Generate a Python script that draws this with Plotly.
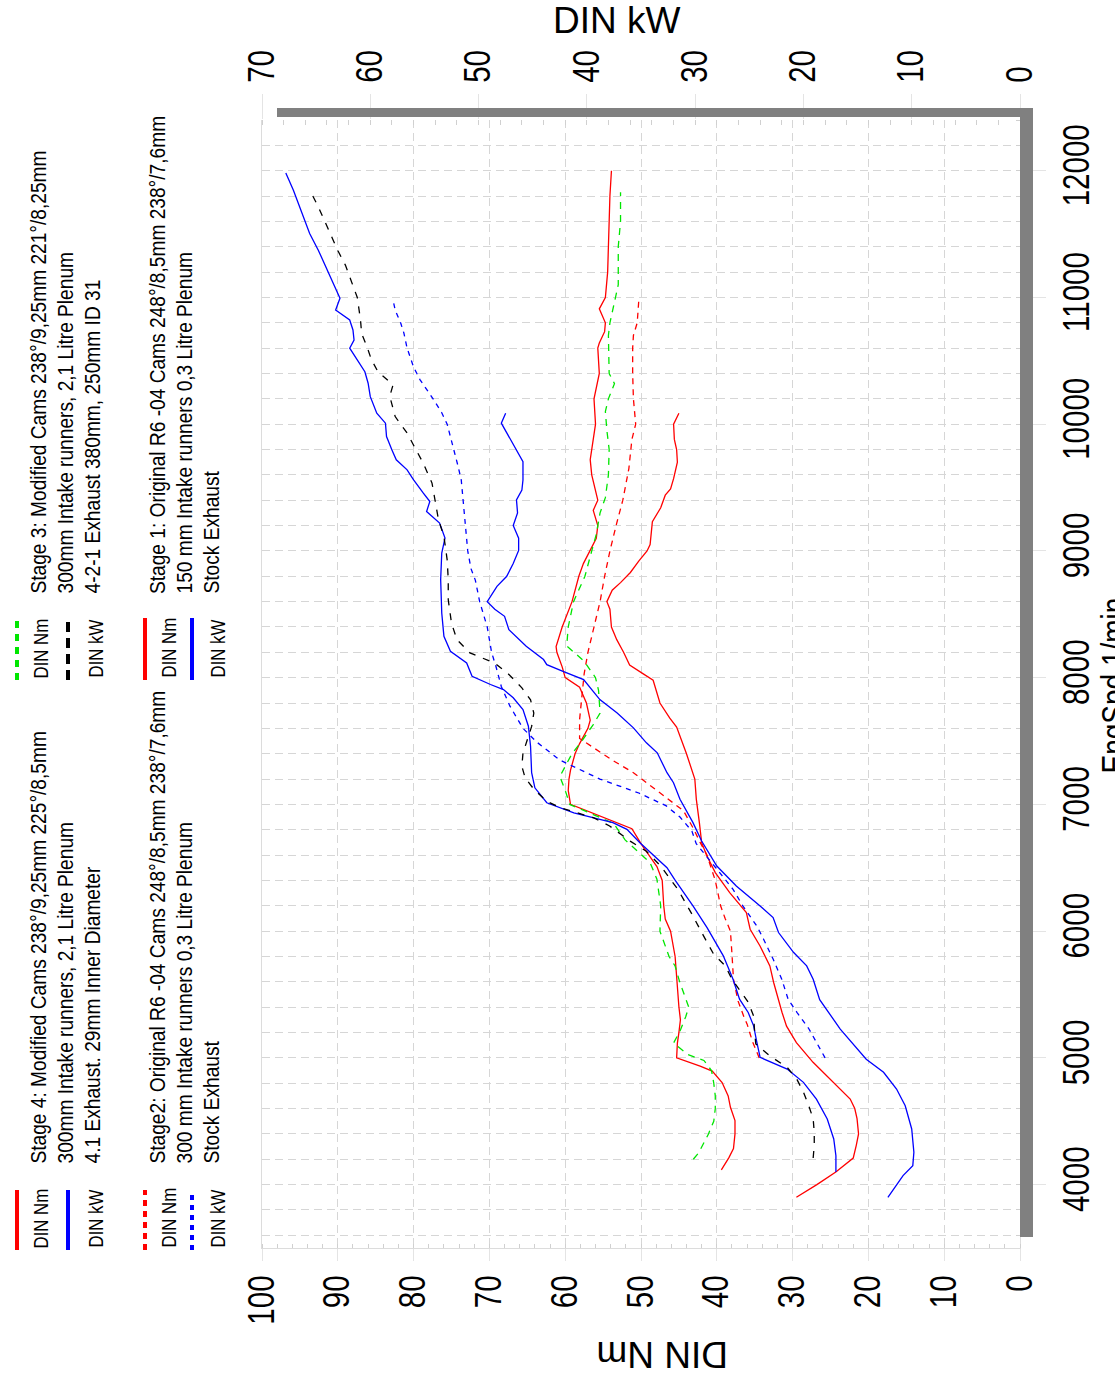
import plotly.graph_objects as go

# ---------------------------------------------------------------- data
# Stage 4
s4_nm_rpm = [4117, 4213, 4285, 4400, 4506, 4610, 4700, 4805, 4896, 4935, 5000, 5117, 5200, 5300, 5403,
             5600, 5800, 6000, 6096, 6200, 6400, 6510, 6600, 6680, 6808, 7000, 7110, 7200, 7270, 7400,
             7480, 7600, 7665, 7800, 7925, 8000, 8085, 8200, 8245, 8400, 8600, 8800, 8900, 9000, 9100,
             9200, 9320, 9400, 9600, 9720, 9800, 10000, 10200, 10340, 10400, 10600, 10640, 10730, 10800,
             10910, 11000, 11200, 11400, 11600, 11800, 12000]
s4_nm = [39.4, 38.4, 37.8, 37.6, 37.6, 38.2, 38.5, 39.3, 40.6, 42.2, 45.3, 45.2, 45.0, 44.8, 45.0,
         45.2, 45.5, 46.1, 46.8, 47.0, 47.2, 47.9, 48.9, 49.9, 51.2, 59.3, 59.6, 59.5, 59.3, 58.7,
         58.1, 57.0, 56.7, 57.2, 58.1, 60.0, 60.4, 61.1, 61.2, 60.4, 59.1, 58.2, 57.6, 56.7, 55.9,
         55.7, 56.3, 55.7, 56.5, 56.7, 56.5, 56.0, 56.2, 55.7, 55.5, 55.7, 55.5, 54.8, 54.7,
         55.5, 54.7, 54.4, 54.3, 54.2, 54.1, 53.9]
s4_kw_rpm = [4100, 4228, 4360, 4518, 4675, 4807, 4912, 5004, 5122, 5253, 5358, 5463, 5621, 5805, 6028,
             6199, 6409, 6501, 6698, 6803, 6856, 6934, 7013, 7131, 7250, 7459, 7617, 7749, 7841, 7906,
             7946, 8011, 8116, 8208, 8326, 8510, 8773, 8983, 9101, 9220, 9311, 9390, 9456, 9560, 9640,
             9719, 9797, 9902, 10008, 10086, 10217, 10323, 10414, 10532, 10600, 10664, 10743, 10822,
             10900, 10993, 11111, 11216, 11373, 11505, 11662, 11846, 11982]
s4_kw = [17.0, 17.0, 17.2, 17.8, 18.8, 20.0, 21.5, 24.0, 24.3, 24.6, 25.1, 25.9, 26.5, 27.4, 28.9,
         30.2, 31.9, 32.6, 35.1, 36.3, 37.6, 41.2, 43.7, 44.8, 45.1, 45.2, 45.4, 45.9, 46.8, 47.7,
         48.9, 50.6, 51.1, 52.6, 53.2, 53.4, 53.5, 53.4, 53.1, 53.6, 54.8, 54.5, 55.1, 56.0, 56.6,
         57.6, 58.0, 58.5, 58.6, 59.4, 60.0, 60.2, 60.5, 61.4, 61.9, 61.5, 61.6, 61.9,
         63.2, 62.8, 63.4, 64.0, 64.8, 65.6, 66.3, 67.1, 67.8]

# Stage 3
s3_nm_rpm = [4200, 4250, 4400, 4500, 4600, 4700, 4800, 4900, 4980, 5026, 5117, 5220, 5325, 5400,
             5600, 5725, 5800, 6000, 6200, 6410, 6540, 6720, 6850, 7000, 7110, 7220, 7300, 7400,
             7500, 7630, 7720, 7900, 8000, 8130, 8250, 8300, 8400, 8600, 8800, 9000, 9130, 9300,
             9420, 9600, 9800, 9950, 10100, 10200, 10320, 10400, 10600, 10700, 10800, 11000, 11100,
             11400, 11600, 11830]
s3_nm = [43.1, 42.4, 41.1, 40.4, 40.2, 40.2, 40.4, 40.7, 41.7, 43.8, 45.7, 44.8, 44.1, 43.7,
         44.9, 45.5, 46.3, 47.5, 47.4, 47.9, 48.8, 52.1, 53.6, 59.4, 60.0, 60.7, 60.0, 59.1,
         57.8, 56.3, 55.4, 55.6, 56.0, 57.5, 59.8, 59.7, 59.6, 58.9, 57.4, 56.5, 55.9, 55.4,
         54.7, 54.3, 54.2, 54.5, 54.7, 54.3, 53.5, 54.2, 54.3, 54.3, 54.1, 53.4, 53.0,
         53.0, 52.7, 52.7]
s3_kw_rpm = [4210, 4310, 4410, 4520, 4620, 4730, 4830, 4925, 5015, 5110, 5200, 5330, 5440, 5515,
             5620, 5725, 5820, 5990, 6120, 6330, 6515, 6630, 6710, 6830, 6895, 6975, 7025, 7120,
             7210, 7300, 7405, 7510, 7615, 7720, 7825, 7920, 8025, 8115, 8195, 8300, 8430, 8615,
             8775, 8930, 9115, 9245, 9400, 9535, 9690, 9825, 9930, 10060, 10220, 10310, 10415,
             10510, 10610, 10715, 10820, 11000, 11120, 11255, 11370, 11480, 11600, 11715, 11833]
s3_kw = [19.1, 19.0, 19.0, 19.1, 19.5, 20.0, 20.6, 21.5, 23.1, 24.4, 24.5, 24.6, 25.1, 25.7,
         26.6, 27.2, 28.3, 29.4, 30.2, 31.6, 33.2, 34.5, 36.0, 37.9, 39.4, 42.5, 43.7, 44.9,
         45.7, 46.0, 45.9, 45.5, 45.1, 44.9, 45.2, 46.0, 47.2, 48.5, 50.8, 52.0, 52.5, 52.8,
         52.8, 52.9, 53.2, 53.7, 54.0, 54.3, 55.1, 55.9, 56.6, 57.7, 58.2, 57.9, 59.3,
         59.9, 60.3, 60.8, 60.9, 61.2, 61.7, 62.3, 63.0, 63.6, 64.2, 64.8, 65.5]

# Stage 2
s2_nm_rpm = [5000, 5130, 5266, 5320, 5450, 5620, 5820, 6000, 6100, 6200, 6400, 6600, 6700, 6800,
             6950, 7050, 7150, 7250, 7350, 7450, 7520, 7670, 7850, 8030, 8200, 8400, 8600, 8800,
             9000, 9220, 9400, 9650, 9880, 10000, 10200, 10400, 10600, 10700, 10800, 10970]
s2_nm = [34.4, 35.3, 36.0, 36.4, 37.2, 37.8, 38.0, 38.2, 38.9, 39.5, 40.2, 41.3, 42.2, 43.0,
         44.4, 46.6, 48.7, 51.0, 53.8, 56.3, 58.1, 58.1, 57.8, 57.5, 57.0, 56.2, 55.4, 54.8,
         54.1, 53.2, 52.4, 51.6, 51.2, 50.7, 51.0, 51.1, 51.1, 51.0, 50.5, 50.3]
s2_kw_rpm = [5000, 5120, 5230, 5360, 5460, 5620, 5780, 5940, 6040, 6200, 6330, 6490, 6690, 6790,
             6900, 6990, 7090, 7200, 7350, 7490, 7600, 7775, 7930, 8090, 8200, 8400, 8600, 8770,
             8860, 9000, 9190, 9380, 9560, 9670, 9800, 9900, 10000, 10090, 10200, 10350, 10450,
             10600, 10720, 10800, 10900, 10980]
s2_kw = [18.0, 18.8, 19.5, 20.6, 21.4, 22.0, 22.8, 23.7, 24.3, 25.6, 26.5, 28.0, 29.9, 30.3,
         31.4, 32.7, 35.2, 38.8, 42.5, 44.6, 45.9, 47.1, 47.9, 48.4, 48.8, 49.2, 49.9, 50.3,
         50.7, 51.0, 51.2, 51.4, 51.6, 51.9, 52.3, 52.6, 52.9, 53.4, 54.2, 55.4, 56.0,
         56.6, 56.9, 57.2, 57.7, 57.9]

# Stage 1
s1_nm_rpm = [3900, 4000, 4100, 4180, 4210, 4310, 4400, 4520, 4600, 4675, 4780, 4860, 4965, 5120,
             5250, 5360, 5460, 5595, 5726, 5883, 6015, 6146, 6304, 6462, 6593, 6698, 6856, 7040,
             7200, 7400, 7610, 7680, 7800, 7980, 8030, 8100, 8200, 8300, 8400, 8540, 8600, 8690,
             8750, 8830, 8920, 9000, 9050, 9230, 9340, 9440, 9490, 9570, 9700, 9800, 9880, 10000,
             10086]
s1_nm = [29.5, 26.8, 24.3, 22.7, 22.0, 21.6, 21.3, 21.5, 21.8, 22.4, 24.2, 25.5, 27.3, 29.5,
         30.8, 31.4, 31.9, 32.5, 33.0, 34.3, 35.6, 36.1, 38.3, 40.2, 41.3, 42.0, 42.3, 42.7,
         42.9, 44.0, 45.3, 46.2, 47.5, 48.4, 49.7, 51.5, 52.3, 53.2, 53.9, 54.1, 54.5, 53.8,
         52.7, 51.4, 50.3, 49.2, 48.8, 48.5, 47.4, 46.8, 46.1, 45.7, 45.2, 45.3, 45.6, 45.7,
         45.0]
s1_kw_rpm = [3900, 4071, 4150, 4255, 4439, 4622, 4754, 4886, 4990, 5227, 5460, 5621, 5726, 5831,
             5989, 6107, 6199, 6356, 6514, 6711, 6856, 7040, 7171, 7250, 7407, 7486, 7604, 7722,
             7827, 7985, 8050, 8103, 8143, 8248, 8379, 8484, 8540, 8600, 8720, 8800, 8900, 9004,
             9100, 9200, 9300, 9403, 9480, 9560, 9705, 9797, 9930, 10008, 10086]
s1_kw = [12.2, 10.8, 9.9, 9.8, 10.0, 10.6, 11.4, 12.6, 14.2, 16.6, 18.5, 19.1, 19.7, 20.9,
         22.3, 22.8, 24.0, 26.2, 28.0, 29.4, 30.2, 31.4, 32.0, 32.6, 33.5, 34.5, 35.7, 37.2,
         38.8, 40.3, 42.2, 43.7, 44.0, 45.6, 47.2, 47.6, 48.5, 49.2, 48.3, 47.4, 46.8, 46.3,
         46.3, 46.8, 46.4, 46.5, 46.0, 45.9, 45.9, 46.5, 47.4, 47.9, 47.5]

nm_ticks = list(range(0, 101, 10))
kw_ticks = list(range(0, 71, 10))
rpm_ticks = list(range(4000, 12001, 1000))
rpm_labels = [str(v) for v in rpm_ticks]

legend_groups = [
    {"nm": ("#ff0000", "solid"), "kw": ("#0000ff", "solid"),
     "text": ["Stage 4: Modified Cams 238°/9,25mm 225°/8,5mm",
              "300mm Intake runners, 2,1 Litre Plenum",
              "4.1 Exhaust. 29mm Inner Diameter"], "col": 0, "row": 0},
    {"nm": ("#ff0000", "6px,5px"), "kw": ("#0000ff", "5px,5px"),
     "text": ["Stage2: Original R6 -04 Cams 248°/8,5mm 238°/7,6mm",
              "300 mm Intake runners 0,3 Litre Plenum",
              "Stock Exhaust"], "col": 1, "row": 0},
    {"nm": ("#00e600", "7px,6px"), "kw": ("#000000", "10px,6px"),
     "text": ["Stage 3: Modified Cams 238°/9,25mm 221°/8,25mm",
              "300mm Intake runners, 2,1 Litre Plenum",
              "4-2-1 Exhaust 380mm, 250mm ID 31"], "col": 0, "row": 1},
    {"nm": ("#ff0000", "solid"), "kw": ("#0000ff", "solid"),
     "text": ["Stage 1: Original R6 -04 Cams 248°/8,5mm 238°/7,6mm",
              "150 mm Intake runners 0,3 Litre Plenum",
              "Stock Exhaust"], "col": 1, "row": 1},
]

# ---------------------------------------------------------------- geometry
W, H = 1115, 1374
PL, PR, PT, PB = 262, 1020, 120, 1248          # plot area in pixels
FONT = "Liberation Sans, Arial, Helvetica, sans-serif"
GRID = "#d6d6d6"
TICK_SIZE, TITLE_SIZE, RPM_TITLE_SIZE, LEG_SIZE, LEG_LABEL_SIZE = 36, 37, 35, 22, 21


def px(xp):
    return (xp - PL) / (PR - PL)


def py(yp):
    return (PB - yp) / (PB - PT)


fig = go.Figure()

curves = [
    (s4_nm, s4_nm_rpm, "x", "#ff0000", "solid"),
    (s1_nm, s1_nm_rpm, "x", "#ff0000", "solid"),
    (s2_nm, s2_nm_rpm, "x", "#ff0000", "6px,5px"),
    (s3_nm, s3_nm_rpm, "x", "#00e600", "7px,6px"),
    (s4_kw, s4_kw_rpm, "x2", "#0000ff", "solid"),
    (s1_kw, s1_kw_rpm, "x2", "#0000ff", "solid"),
    (s2_kw, s2_kw_rpm, "x2", "#0000ff", "5px,5px"),
    (s3_kw, s3_kw_rpm, "x2", "#000000", "7px,8px"),
]
for vals, rpm, xa, col, dash in curves:
    fig.add_trace(go.Scatter(x=vals, y=rpm, xaxis=xa, yaxis="y", mode="lines",
                             line=dict(color=col, width=1.3, dash=dash),
                             showlegend=False, hoverinfo="skip"))

tickfont = dict(family=FONT, size=TICK_SIZE, color="#000000")

fig.update_layout(
    width=W, height=H,
    margin=dict(l=PL, r=W - PR, t=PT, b=H - PB, pad=0),
    paper_bgcolor="white", plot_bgcolor="white",
    showlegend=False,
    xaxis=dict(range=[100, 0], tickvals=nm_ticks, tickangle=-90, side="bottom",
               showgrid=True, gridcolor=GRID, griddash="8px,5px", gridwidth=1,
               showline=True, linecolor="#dcdcdc", linewidth=1, zeroline=False,
               ticks="outside", ticklen=12, tickcolor="#e4e4e4", ticklabelstandoff=0,
               tickfont=tickfont, automargin=False,
               minor=dict(tick0=0, dtick=2, ticks="inside", ticklen=4, tickcolor="#d0d0d0",
                          showgrid=False)),
    xaxis2=dict(range=[70, 0], tickvals=kw_ticks, tickangle=-90, side="top",
                overlaying="x", anchor="y", showgrid=False, zeroline=False,
                ticks="outside", ticklen=25, tickcolor="#e4e4e4", ticklabelstandoff=4,
                tickfont=tickfont, automargin=False,
                minor=dict(tick0=0, dtick=2, ticks="inside", ticklen=5, tickcolor="#d0d0d0",
                           showgrid=False)),
    yaxis=dict(range=[3500, 12400], tickvals=rpm_ticks, ticktext=rpm_labels, tickangle=-90,
               side="right",
               showgrid=True, gridcolor=GRID, griddash="8px,5px", gridwidth=1,
               showline=True, mirror=True, linecolor="#dcdcdc", linewidth=1, zeroline=False,
               ticks="outside", ticklen=25, tickcolor="#e4e4e4", ticklabelstandoff=0,
               tickfont=tickfont, automargin=False,
               minor=dict(tick0=3400, dtick=200, showgrid=True, gridcolor=GRID,
                          griddash="8px,5px", ticks="inside", ticklen=4, tickcolor="#d0d0d0")),
)

# heavy frame along the top and right edge of the plot
shapes = [
    dict(type="rect", xref="paper", yref="paper", x0=px(277), x1=px(1033), y0=py(117), y1=py(108),
         fillcolor="#808080", line=dict(width=0), layer="above"),
    dict(type="rect", xref="paper", yref="paper", x0=px(1020), x1=px(1033), y0=py(1237), y1=py(108),
         fillcolor="#808080", line=dict(width=0), layer="above"),
]

annotations = [
    dict(text="DIN kW", x=px(617), y=py(-2), xref="paper", yref="paper", showarrow=False,
         font=dict(family=FONT, size=TITLE_SIZE, color="#000000"), xanchor="center", yanchor="top"),
    dict(text="DIN Nm", x=px(662), y=py(1355), xref="paper", yref="paper", showarrow=False,
         textangle=180, font=dict(family=FONT, size=TITLE_SIZE, color="#000000"),
         xanchor="center", yanchor="middle"),
    dict(text="EngSpd 1/min", x=px(1091), y=py(686), xref="paper", yref="paper", showarrow=False,
         textangle=-90, font=dict(family=FONT, size=RPM_TITLE_SIZE, color="#000000"),
         xanchor="left", yanchor="middle"),
]

# legend: short line samples with rotated captions
sym_x = [(17, 68), (145, 192)]
lab_x = [(40, 95), (168, 217)]
desc_x = [(38, 65, 92), (157, 184, 211)]
row_sym_y = [(1190, 1250), (618, 680)]
row_text_y = [1166, 596]
for g in legend_groups:
    c, r = g["col"], g["row"]
    y0, y1 = row_sym_y[r]
    for k, (key, lab) in enumerate((("nm", "DIN Nm"), ("kw", "DIN kW"))):
        col, dash = g[key]
        shapes.append(dict(type="line", xref="paper", yref="paper", x0=px(sym_x[c][k]),
                           x1=px(sym_x[c][k]), y0=py(y1), y1=py(y0),
                           line=dict(color=col, width=4, dash=dash), layer="above"))
        annotations.append(dict(text=lab, x=px(lab_x[c][k]), y=py(y1), xref="paper", yref="paper",
                                showarrow=False, textangle=-90, align="left",
                                font=dict(family=FONT, size=LEG_LABEL_SIZE, color="#000000"),
                                xanchor="center", yanchor="bottom"))
    for j, line in enumerate(g["text"]):
        annotations.append(dict(text=line, x=px(desc_x[c][j]), y=py(row_text_y[r]),
                                xref="paper", yref="paper", showarrow=False, textangle=-90,
                                align="left",
                                font=dict(family=FONT, size=LEG_SIZE, color="#000000"),
                                xanchor="center", yanchor="bottom"))

fig.update_layout(shapes=shapes, annotations=annotations)

# condensed lettering for the vertical texts (tick labels, legend, rpm title)
condense_js = """
var gd = document.getElementById('{plot_id}');
var squeeze = {%d: 0.82, %d: 0.80, %d: 0.87, %d: 0.80};
gd.querySelectorAll('svg text').forEach(function (t) {
  try {
    var fs = Math.round(parseFloat(window.getComputedStyle(t).fontSize));
    var f = squeeze[fs];
    if (!f || !t.textContent) { return; }
    var len = t.getComputedTextLength();
    if (len > 0) {
      t.setAttribute('textLength', (len * f).toFixed(2));
      t.setAttribute('lengthAdjust', 'spacingAndGlyphs');
    }
  } catch (e) {}
});
""" % (TICK_SIZE, RPM_TITLE_SIZE, LEG_SIZE, LEG_LABEL_SIZE)

fig.write_html("out.html", post_script=condense_js)
